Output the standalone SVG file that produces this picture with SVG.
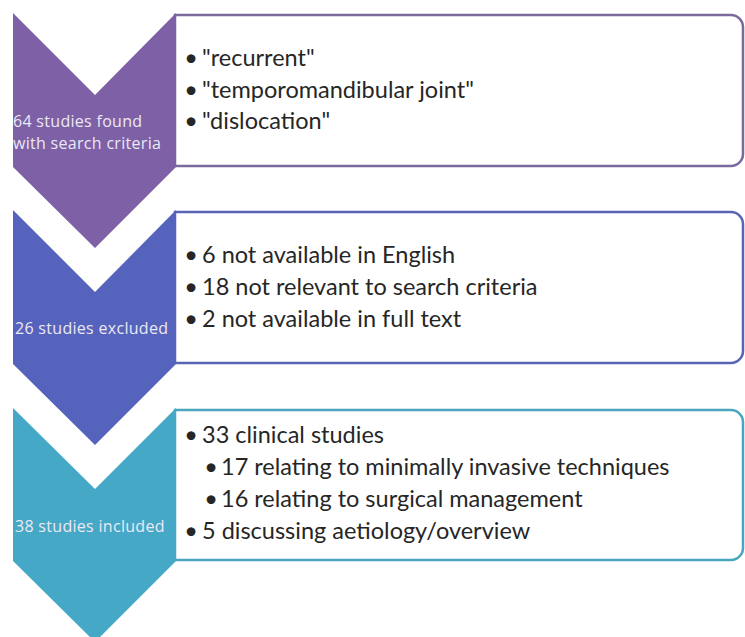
<svg xmlns="http://www.w3.org/2000/svg" width="745" height="637" viewBox="0 0 745 637">
<style>
.box{fill:#ffffff;stroke-width:2.5}
.b1{stroke:#7a6a9e}.b2{stroke:#5864b4}.b3{stroke:#4aa5bf}
.lab{font-family:"Open Sans","Noto Sans",sans-serif;font-size:16px;letter-spacing:0.3px;fill:#ece8f4}
.t{font-family:Lato,"Liberation Sans",sans-serif;font-size:23.5px;fill:#262626}
.bu{font-family:Lato,"Liberation Sans",sans-serif;font-size:23.5px;fill:#262626;text-anchor:middle}
</style>
<rect width="745" height="637" fill="#ffffff"/>
<g id="connectors"></g>
<g id="box1">
<path class="box b1" d="M175,15 H731 A12,12 0 0 1 743,27 V154 A12,12 0 0 1 731,166 H175 Z"/>
<text class="bu" x="191" y="66">•</text><text class="t" x="202" y="66">"recurrent"</text>
<text class="bu" x="191" y="97.5">•</text><text class="t" x="202" y="97.5">"temporomandibular joint"</text>
<text class="bu" x="191" y="129">•</text><text class="t" x="202" y="129">"dislocation"</text>
</g>
<g id="box2">
<path class="box b2" d="M175,212 H731 A12,12 0 0 1 743,224 V351 A12,12 0 0 1 731,363 H175 Z"/>
<text class="bu" x="191" y="263">•</text><text class="t" x="202" y="263">6 not available in English</text>
<text class="bu" x="191" y="295">•</text><text class="t" x="202" y="295">18 not relevant to search criteria</text>
<text class="bu" x="191" y="327">•</text><text class="t" x="202" y="327">2 not available in full text</text>
</g>
<g id="box3">
<path class="box b3" d="M175,410 H731 A12,12 0 0 1 743,422 V548 A12,12 0 0 1 731,560 H175 Z"/>
<text class="bu" x="191" y="443">•</text><text class="t" x="202" y="443">33 clinical studies</text>
<text class="bu" x="211" y="475">•</text><text class="t" x="221" y="475">17 relating to minimally invasive techniques</text>
<text class="bu" x="211" y="507">•</text><text class="t" x="221" y="507">16 relating to surgical management</text>
<text class="bu" x="191" y="539">•</text><text class="t" x="202" y="539">5 discussing aetiology/overview</text>
</g>
<g id="chevron1">
<polygon fill="#7d60a6" points="13,13 95,95 176,13 176,167 95,248 13,167"/>
<text class="lab" x="13" y="127">64 studies found</text>
<text class="lab" x="13" y="149">with search criteria</text>
</g>
<g id="chevron2">
<polygon fill="#5663bd" points="13,210 95,292 176,210 176,364 95,445 13,364"/>
<text class="lab" x="15" y="334">26 studies excluded</text>
</g>
<g id="chevron3">
<polygon fill="#45a8c6" points="13,408 95,489 176,408 176,561 95,642 13,561"/>
<text class="lab" x="15" y="531.5">38 studies included</text>
</g>
</svg>
